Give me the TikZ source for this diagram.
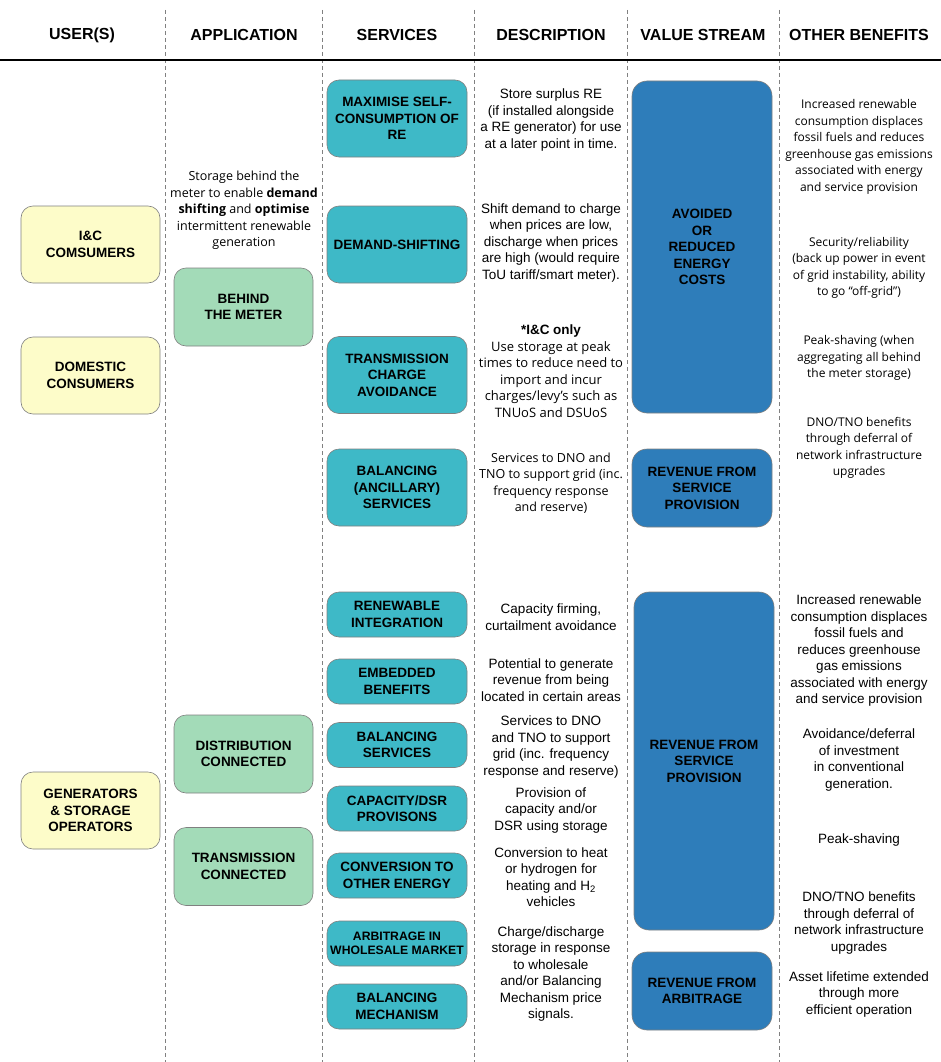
\documentclass[tikz,border=0pt]{standalone}
\usepackage{fontspec}
\setmainfont{Liberation Sans}
\newfontfamily\opensans{Open Sans}
\usetikzlibrary{positioning}
\definecolor{userfill}{HTML}{FDFCC9}
\definecolor{appfill}{HTML}{A3DBB8}
\definecolor{svcfill}{HTML}{3EB9C7}
\definecolor{valfill}{HTML}{2E7DBA}
\definecolor{boxline}{HTML}{808080}

\begin{document}
\begin{tikzpicture}[x=1pt, y=-1pt,
    box/.style={draw=boxline, line width=0.6pt, rounded corners=12pt, align=center,
      inner sep=2pt, font=\fontsize{13.5}{16.5}\selectfont\bfseries},
    user/.style={box, fill=userfill, minimum width=139pt, minimum height=77pt},
    appbox/.style={box, fill=appfill, minimum width=139pt, minimum height=78pt},
    service/.style={box, fill=svcfill, minimum width=140pt, minimum height=77pt},
    smallservice/.style={service, minimum height=45pt},
    valuebox/.style={box, fill=valfill, rounded corners=15pt, minimum width=140pt},
    header/.style={font=\fontsize{16}{19}\selectfont\bfseries},
    desc/.style={align=center, inner sep=0pt, font=\fontsize{13.5}{16.5}\selectfont},
    softdesc/.style={align=center, inner sep=0pt, font=\opensans\fontsize{12.5}{16.5}\selectfont},
    benefit/.style={softdesc, font=\opensans\fontsize{12}{16.5}\selectfont},
    sepline/.style={gray, line width=0.8pt, dash pattern=on 4pt off 3pt}
  ]
    \useasboundingbox (0,0) rectangle (941,1062);

    % columns
    \foreach \x in {165,322,474,627,779}
      \draw[sepline] (\x,10) -- (\x,1062);
    \draw[line width=2pt] (0,60) -- (941,60);

    \node[header] (husers) at (82,35) {USER(S)};
    \node[header] (happ)   at (244,35) {APPLICATION};
    \node[header] (hsvc)   at (397,35) {SERVICES};
    \node[header] (hdesc)  at (551,35) {DESCRIPTION};
    \node[header] (hval)   at (703,35) {VALUE STREAM};
    \node[header] (hother) at (859,35) {OTHER BENEFITS};

    % users
    \node[user] (icuser)  at (90.5,244.5) {I\&C\\COMSUMERS};
    \node[user] (domuser) at (90.5,375.5) {DOMESTIC\\CONSUMERS};
    \node[user] (genuser) at (90.5,810.5) {GENERATORS\\\& STORAGE\\OPERATORS};

    % application
    \node[softdesc] (btmtext) at (244,210.5) {Storage behind the\\meter to enable \textbf{demand}\\\textbf{shifting} and \textbf{optimise}\\intermittent renewable\\generation};
    \node[appbox] (btm)   at (243.5,307)   {BEHIND\\THE METER};
    \node[appbox] (dist)  at (243.5,754)   {DISTRIBUTION\\CONNECTED};
    \node[appbox] (trans) at (243.5,866.5) {TRANSMISSION\\CONNECTED};

    % services
    \node[service] (selfcons) at (397,118.5) {MAXIMISE SELF-\\CONSUMPTION OF\\RE};
    \node[service] (dshift)   at (397,244.5) {DEMAND-SHIFTING};
    \node[service] (tcharge)  at (397,375)   {TRANSMISSION\\CHARGE\\AVOIDANCE};
    \node[service] (ancil)    at (397,487.5) {BALANCING\\(ANCILLARY)\\SERVICES};
    \node[smallservice] (reint)   at (397,614.5)  {RENEWABLE\\INTEGRATION};
    \node[smallservice] (embed)   at (397,681.5)  {EMBEDDED\\BENEFITS};
    \node[smallservice] (balserv) at (397,745)    {BALANCING\\SERVICES};
    \node[smallservice] (capdsr)  at (397,808.5)  {CAPACITY/DSR\\PROVISONS};
    \node[smallservice] (convert) at (397,875.5)  {CONVERSION TO\\OTHER ENERGY};
    \node[smallservice, font=\fontsize{12.2}{14.5}\selectfont\bfseries] (arbit) at (397,943.5) {ARBITRAGE IN\\WHOLESALE MARKET};
    \node[smallservice] (balmech) at (397,1006.5) {BALANCING\\MECHANISM};

    % description
    \node[desc] (dselfcons) at (551,120) {Store surplus RE\\(if installed alongside\\a RE generator) for use\\at a later point in time.};
    \node[desc] (ddshift)   at (551,243) {Shift demand to charge\\when prices are low,\\discharge when prices\\are high (would require\\ToU tariff/smart meter).};
    \node[softdesc, font=\opensans\fontsize{13}{16.5}\selectfont] (dtcharge) at (551,371) {{\fontsize{13.5}{16.5}\selectfont\rmfamily\bfseries *I\&C only}\\Use storage at peak\\times to reduce need to\\import and incur\\charges/levy’s such as\\TNUoS and DSUoS};
    \node[softdesc] (dancil)   at (551,483) {Services to DNO and\\TNO to support grid (inc.\\frequency response\\and reserve)};
    \node[desc] (dreint)   at (551,617) {Capacity firming,\\curtailment avoidance};
    \node[desc] (dembed)   at (551,680) {Potential to generate\\revenue from being\\located in certain areas};
    \node[desc] (dbalserv) at (551,747) {Services to DNO\\and TNO to support\\grid (inc. frequency\\response and reserve)};
    \node[desc] (dcapdsr)  at (551,810) {Provision of\\capacity and/or\\DSR using storage};
    \node[desc] (dconvert) at (551,877) {Conversion to heat\\or hydrogen for\\heating and H\textsubscript{2}\\vehicles};
    \node[desc] (darbit)   at (551,974) {Charge/discharge\\storage in response\\to wholesale\\and/or Balancing\\Mechanism price\\signals.};

    % value stream
    \node[valuebox, minimum height=332pt] (avoided) at (702,247) {AVOIDED\\OR\\REDUCED\\ENERGY\\COSTS};
    \node[valuebox, minimum height=78pt]  (revup)   at (702,488) {REVENUE FROM\\SERVICE\\PROVISION};
    \node[valuebox, minimum height=338pt] (revlow)  at (704,761) {REVENUE FROM\\SERVICE\\PROVISION};
    \node[valuebox, minimum height=78pt]  (revarb)  at (702,991) {REVENUE FROM\\ARBITRAGE};

    % other benefits
    \node[benefit] (orenew)  at (859,147) {Increased renewable\\consumption displaces\\fossil fuels and reduces\\greenhouse gas emissions\\associated with energy\\and service provision};
    \node[benefit] (osecure) at (859,268) {Security/reliability\\(back up power in event\\of grid instability, ability\\to go “off-grid”)};
    \node[benefit] (opeakup) at (859,358) {Peak-shaving (when\\aggregating all behind\\the meter storage)};
    \node[benefit] (odnoup)  at (859,448) {DNO/TNO benefits\\through deferral of\\network infrastructure\\upgrades};
    \node[desc] (orenewlow) at (859,651) {Increased renewable\\consumption displaces\\fossil fuels and\\reduces greenhouse\\gas emissions\\associated with energy\\and service provision};
    \node[desc] (odefer)    at (859,760) {Avoidance/deferral\\of investment\\in conventional\\generation.};
    \node[desc] (opeaklow)  at (859,840) {Peak-shaving};
    \node[desc] (odnolow)   at (859,923) {DNO/TNO benefits\\through deferral of\\network infrastructure\\upgrades};
    \node[desc] (oasset)    at (859,994) {Asset lifetime extended\\through more\\efficient operation};
  \end{tikzpicture}
\end{document}
